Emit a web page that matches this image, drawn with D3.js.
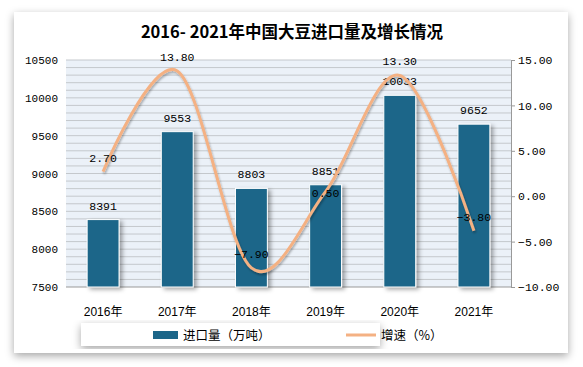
<!DOCTYPE html>
<html>
<head>
<meta charset="utf-8">
<script src="https://cdn.jsdelivr.net/npm/d3@7"></script>
<style>
  body { margin: 0; background: #fff; }
  text { font-family: "Liberation Mono", "Noto Sans CJK SC", monospace; }
</style>
</head>
<body>
<div id="chart"></div>
<script>
// data
const years = ["2016年", "2017年", "2018年", "2019年", "2020年", "2021年"];
const imports = [8391, 9553, 8803, 8851, 10033, 9652];   // 进口量（万吨）
const growth = [2.70, 13.80, -7.90, 0.50, 13.30, -3.80];  // 增速（%）
const leftTicks = [7500, 8000, 8500, 9000, 9500, 10000, 10500];
const rightTicks = [-10, -5, 0, 5, 10, 15];

const width = 583,
      height = 367,
      margin = ({top: 60, right: 72, bottom: 80, left: 66});

const barColor = "#1c6689",
      lineColor = "#f4b183";

const svg = d3.select("#chart")
    .append("svg")
    .attr("width", width)
    .attr("height", height);

const defs = svg.append("defs");
const cardShadow = defs.append("filter").attr("id", "cardShadow")
    .attr("x", "-10%").attr("y", "-10%").attr("width", "120%").attr("height", "120%");
cardShadow.append("feDropShadow")
    .attr("dx", 0).attr("dy", 3).attr("stdDeviation", 4)
    .attr("flood-color", "#000").attr("flood-opacity", 0.35);

const barShadow = defs.append("filter").attr("id", "barShadow")
    .attr("x", "-30%").attr("y", "-10%").attr("width", "160%").attr("height", "130%");
barShadow.append("feDropShadow")
    .attr("dx", 3).attr("dy", 2).attr("stdDeviation", 2)
    .attr("flood-color", "#000").attr("flood-opacity", 0.35);

const lineShadow = defs.append("filter").attr("id", "lineShadow")
    .attr("x", "-10%").attr("y", "-10%").attr("width", "120%").attr("height", "130%");
lineShadow.append("feDropShadow")
    .attr("dx", 1).attr("dy", 2).attr("stdDeviation", 1.2)
    .attr("flood-color", "#000").attr("flood-opacity", 0.3);

// card
svg.append("rect")
    .attr("x", 14).attr("y", 12)
    .attr("width", 554).attr("height", 341)
    .attr("fill", "#fff")
    .attr("filter", "url(#cardShadow)");

svg.append("text")
    .attr("x", 292).attr("y", 38)
    .attr("text-anchor", "middle")
    .style("font-family", "'Noto Sans CJK SC', sans-serif")
    .style("font-size", "16.5px")
    .style("font-weight", "bold")
    .text("2016- 2021年中国大豆进口量及增长情况");

const x = d3.scaleBand()
    .domain(years)
    .range([margin.left, width - margin.right]);

const y = d3.scaleLinear()
    .domain([7500, 10500])
    .range([height - margin.bottom, margin.top]);

const y2 = d3.scaleLinear()
    .domain([-10, 15])
    .range([height - margin.bottom, margin.top]);

// plot background + minor grid
svg.append("rect")
    .attr("x", margin.left).attr("y", margin.top)
    .attr("width", width - margin.right - margin.left)
    .attr("height", height - margin.bottom - margin.top)
    .attr("fill", "#ebf1f8");

svg.append("g")
    .selectAll("line")
    .data(d3.range(7600, 10501, 100))
    .join("line")
    .attr("x1", margin.left)
    .attr("x2", width - margin.right)
    .attr("y1", d => y(d))
    .attr("y2", d => y(d))
    .attr("stroke", "#c4c8cc")
    .attr("stroke-width", 1);

// left axis, labels only
const yAxis = g => g
    .attr("transform", `translate(${margin.left - 8},0)`)
    .call(d3.axisLeft(y).tickValues(leftTicks).tickSize(0).tickPadding(0)
        .tickFormat(d3.format("d")))
    .call(g => g.select(".domain").remove());

svg.append("g").call(yAxis)
    .selectAll("text")
    .style("font-size", "11px")
    .attr("fill", "#000");

// right axis
const yAxis2 = g => g
    .attr("transform", `translate(${width - margin.right},0)`)
    .call(d3.axisRight(y2).tickValues(rightTicks).tickSize(4).tickPadding(3)
        .tickFormat(d3.format(".2f")));

const r = svg.append("g").call(yAxis2);
r.select(".domain").attr("stroke", "#999");
r.selectAll(".tick line").attr("stroke", "#999");
r.selectAll("text").style("font-size", "11.5px").attr("fill", "#000");

// bottom axis line + labels
svg.append("line")
    .attr("x1", margin.left).attr("x2", width - margin.right)
    .attr("y1", y(7500)).attr("y2", y(7500))
    .attr("stroke", "#999");

svg.append("g")
    .attr("transform", `translate(0,${height - margin.bottom + 16})`)
    .call(d3.axisBottom(x).tickSize(0).tickPadding(4))
    .call(g => g.select(".domain").remove())
    .selectAll("text")
    .style("font-family", "'Liberation Sans', 'Noto Sans CJK SC', sans-serif")
    .style("font-size", "12px")
    .attr("fill", "#000");

// bars
const bw = x.bandwidth() * 0.43;
const bar = svg.selectAll(".bar")
    .data(years.map((d, i) => ({year: d, value: imports[i]})))
    .join("g")
    .attr("class", "bar");

bar.append("rect")
    .attr("fill", barColor)
    .attr("stroke", "#fff")
    .attr("stroke-width", 1)
    .attr("filter", "url(#barShadow)")
    .attr("x", d => x(d.year) + x.bandwidth() / 2 - bw / 2)
    .attr("width", bw)
    .attr("y", d => y(d.value))
    .attr("height", d => y(7500) - y(d.value));

bar.append("text")
    .attr("x", d => x(d.year) + x.bandwidth() / 2)
    .attr("y", d => y(d.value) - 10)
    .attr("text-anchor", "middle")
    .style("font-size", "11.5px")
    .text(d => d.value);

// growth line
const pts = years.map((d, i) => [x(d) + x.bandwidth() / 2, y2(growth[i])]);

svg.append("path")
    .datum(pts)
    .attr("fill", "none")
    .attr("stroke", lineColor)
    .attr("stroke-width", 3)
    .attr("filter", "url(#lineShadow)")
    .attr("d", d3.line().curve(d3.curveCardinal.tension(0)));

// line labels sit above the point, unless that hits the bar label
svg.append("g")
    .selectAll("text")
    .data(growth)
    .join("text")
    .attr("x", (d, i) => pts[i][0])
    .attr("y", (d, i) => {
        const above = y2(d) - 10;
        return Math.abs(above - (y(imports[i]) - 10)) < 14 ? y2(d) + 5 : above;
    })
    .attr("text-anchor", "middle")
    .style("font-size", "11.5px")
    .text(d => d3.format(".2f")(d));

// legend
svg.append("rect")
    .attr("x", 81).attr("y", 323)
    .attr("width", 299).attr("height", 23)
    .attr("fill", "#fff")
    .attr("filter", "url(#cardShadow)");

svg.append("rect")
    .attr("x", 153).attr("y", 331)
    .attr("width", 25).attr("height", 8)
    .attr("fill", barColor);

svg.append("text")
    .attr("x", 183).attr("y", 340)
    .style("font-family", "'Noto Sans CJK SC', sans-serif")
    .style("font-size", "12.5px")
    .text("进口量（万吨）");

svg.append("line")
    .attr("x1", 346).attr("x2", 376)
    .attr("y1", 335).attr("y2", 335)
    .attr("stroke", lineColor)
    .attr("stroke-width", 3);

svg.append("text")
    .attr("x", 381).attr("y", 340)
    .style("font-family", "'Noto Sans CJK SC', sans-serif")
    .style("font-size", "12.5px")
    .text("增速（%）");
</script>
</body>
</html>
